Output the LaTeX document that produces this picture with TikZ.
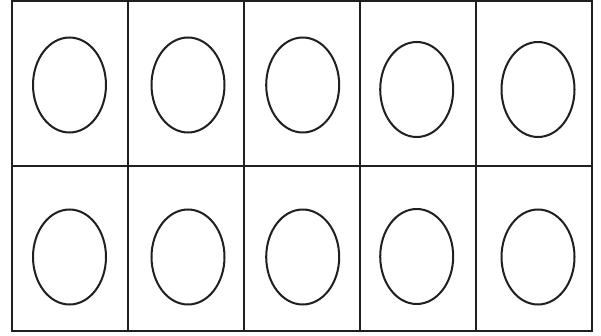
\documentclass[tikz,border=0pt]{standalone}
\usepackage{tikz}
\usetikzlibrary{shapes.geometric}

\definecolor{ink}{HTML}{231F20}

\begin{document}
\begin{tikzpicture}[
  x=0.02cm, y=0.02cm,
  grid/.style={draw=ink, line width=1.3pt},
  oval/.style={ellipse, draw=ink, line width=1.15pt,
    minimum width=1.46cm, minimum height=1.9cm, inner sep=0pt}
]
  \useasboundingbox (0,0) rectangle (601,335);

  % frame and cells
  \draw[grid] (12,4) rectangle (592,334);
  \draw[grid] (12,169) -- (592,169);
  \draw[grid] (128,4) -- (128,334);
  \draw[grid] (244,4) -- (244,334);
  \draw[grid] (360,4) -- (360,334);
  \draw[grid] (476,4) -- (476,334);

  % top row
  \node[oval] (t1) at (69.5,250) {};
  \node[oval] (t2) at (188,250) {};
  \node[oval] (t3) at (302.7,250) {};
  \node[oval] (t4) at (416.7,245.5) {};
  \node[oval] (t5) at (538,245.5) {};

  % bottom row
  \node[oval] (b1) at (69.5,78) {};
  \node[oval] (b2) at (188,78) {};
  \node[oval] (b3) at (302.7,78) {};
  \node[oval] (b4) at (416.7,78.5) {};
  \node[oval] (b5) at (538,78) {};
\end{tikzpicture}
\end{document}
